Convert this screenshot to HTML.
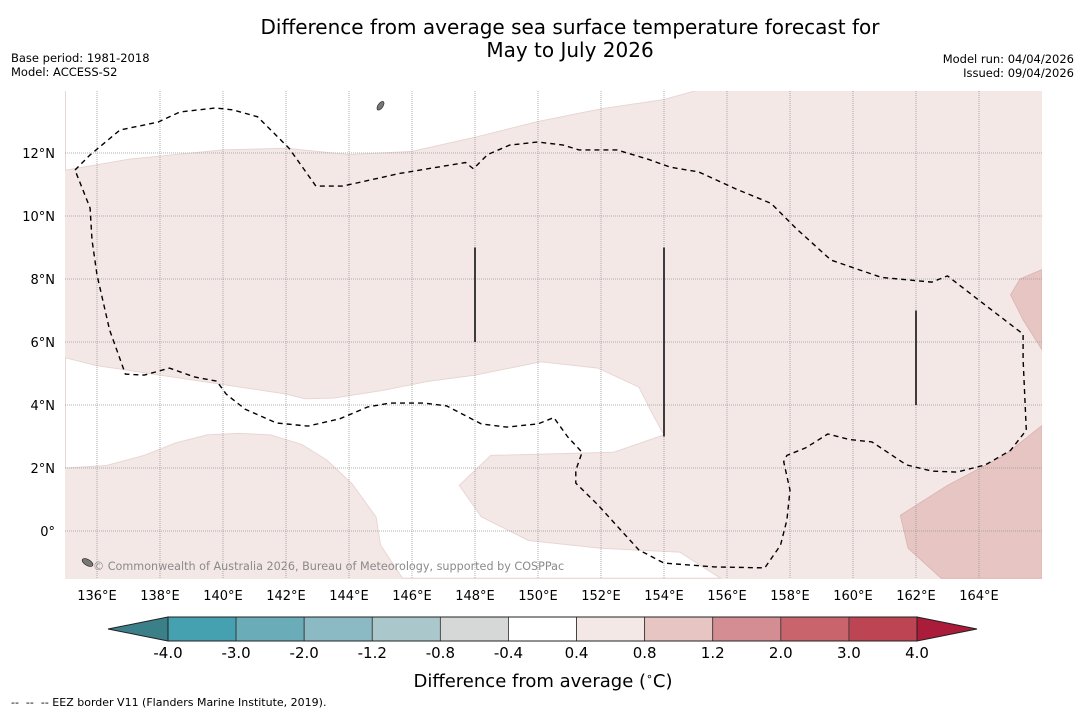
<!DOCTYPE html>
<html><head><meta charset="utf-8"><style>
html,body{margin:0;padding:0;background:#fff;}
body{width:1085px;height:713px;overflow:hidden;font-family:"Liberation Sans","DejaVu Sans",sans-serif;}
</style></head><body>
<svg id="chart" width="1085" height="713" viewBox="0 0 1085 713" xmlns="http://www.w3.org/2000/svg" font-family="DejaVu Sans, Liberation Sans, sans-serif">
<text x="570" y="34" text-anchor="middle" font-size="20">Difference from average sea surface temperature forecast for</text>
<text x="570" y="57" text-anchor="middle" font-size="20">May to July 2026</text>
<text x="11" y="62" font-size="11.5">Base period: 1981-2018</text>
<text x="11" y="76" font-size="11.5">Model: ACCESS-S2</text>
<text x="1074" y="63" text-anchor="end" font-size="11.5">Model run: 04/04/2026</text>
<text x="1074" y="77" text-anchor="end" font-size="11.5">Issued: 09/04/2026</text>
<defs><clipPath id="mapclip"><rect x="65" y="91" width="977" height="488"/></clipPath></defs>
<g id="map" clip-path="url(#mapclip)"></g>
<g id="axes"></g>
<g id="cbar"></g>
<text x="543" y="687" text-anchor="middle" font-size="18">Difference from average (<tspan font-size="11" dy="-7">∘</tspan><tspan dy="7">C)</tspan></text>
<text x="11" y="706" font-size="11" xml:space="preserve">--  --  -- EEZ border V11 (Flanders Marine Institute, 2019).</text>
</svg>
<script>
const lonTicks=[136,138,140,142,144,146,148,150,152,154,156,158,160,162,164];
const latTicks=[0,2,4,6,8,10,12];
const topWhite=[[135,14],[135,11.45],[137,11.8],[140,12.1],[142,12.15],[144,11.95],[146,12.05],[148,12.5],[150,13],[152,13.4],[154,13.7],[155.1,14]];
const midWhite=[[135,5.5],[136,5.25],[138,4.95],[140,4.65],[142,4.35],[142.6,4.2],[143.5,4.22],[145,4.45],[146.5,4.75],[148,4.95],[150.1,5.37],[151.9,5.17],[153.2,4.57],[153.7,3.6],[154,3.05],[152.4,2.5],[150.6,2.45],[148.5,2.4],[147.5,1.45],[148.2,0.45],[149.7,-0.3],[152,-0.55],[154.5,-0.67],[155.8,-1.5],[145.7,-1.5],[145,-0.45],[144.86,0.44],[144.1,1.5],[143.3,2.25],[142.5,2.75],[141.5,3.05],[140.5,3.1],[139.5,3.05],[138.5,2.8],[137.5,2.4],[136.3,2.08],[135,2.0]];
const darkTopRight=[[166,8.3],[165.3,8.0],[165,7.5],[165.4,6.7],[166,5.75]];
const darkBottomRight=[[161.5,0.5],[161.75,-0.55],[162.8,-1.5],[166,-1.5],[166,3.35],[164.8,2.4],[163,1.45]];
const eezMain=[[135.3,11.46],[135.78,11.94],[136.73,12.73],[137.94,12.98],[138.63,13.3],[139.75,13.43],[140.3,13.37],[141.1,13.15],[142.1,12.15],[142.95,10.95],[143.8,10.95],[145.6,11.35],[147.7,11.7],[147.95,11.5],[148.4,11.95],[149.1,12.25],[150,12.35],[150.8,12.25],[151.3,12.1],[151.7,12.1],[152.5,12.1],[153.5,11.8],[154.2,11.55],[155.1,11.4],[156.3,10.85],[157.4,10.4],[158.2,9.6],[159.3,8.6],[160.9,8.05],[162.5,7.9],[163,8.1],[163.9,7.4],[165.4,6.25],[165.4,5.45],[165.5,3.2],[165,2.56],[164.2,2.1],[163.3,1.87],[162.5,1.9],[161.7,2.1],[160.6,2.83],[159.9,2.9],[159.2,3.08],[158.5,2.64],[157.9,2.4],[157.8,2.2],[158,1.3],[157.9,0.35],[157.7,-0.45],[157.2,-1.17],[155.6,-1.14],[154,-1.02],[153.2,-0.6],[151.9,0.83],[151.2,1.52],[151.2,1.93],[151.4,2.5],[150.95,2.98],[150.5,3.6],[150,3.4],[149,3.3],[148.2,3.4],[147.6,3.71],[147.1,3.97],[146.4,4.06],[145.3,4.06],[144.6,3.94],[143.7,3.56],[142.7,3.33],[141.7,3.43],[140.7,3.87],[140.1,4.35],[139.8,4.76],[139.1,4.89],[138.3,5.17],[137.5,4.95],[136.9,4.98],[136.4,6.38],[136,8.13],[135.84,9.24],[135.78,10.25],[135.3,11.46]];
const eezSegments=[[[148,6],[148,9]],[[154,3],[154,9]],[[162,4],[162,7]]];
const cbBounds=[-4.0,-3.0,-2.0,-1.2,-0.8,-0.4,0.4,0.8,1.2,2.0,3.0,4.0];
const cbColors=["#45a0b0","#6aadb9","#8cbac4","#aac8cc","#d5d8d7","#ffffff","#f4e8e7","#e6c5c2","#d48e93","#c9636c","#bd4452"];
const cbLowColor="#3b7f88", cbHighColor="#ab1b3a";

const NS="http://www.w3.org/2000/svg";
const X=lon=>97+(lon-136)*31.5;
const Y=lat=>531-lat*31.5;
function mk(tag,attrs,parent){const e=document.createElementNS(NS,tag);for(const k in attrs)e.setAttribute(k,attrs[k]);parent.appendChild(e);return e;}
const pts=a=>a.map(p=>X(p[0]).toFixed(1)+","+Y(p[1]).toFixed(1)).join(" ");
const map=document.getElementById('map'), axes=document.getElementById('axes'), cbar=document.getElementById('cbar');

let e=mk('rect',{x:65,y:91,width:977,height:488,fill:'#f4e8e7'},map);


e=mk('polygon',{points:pts(topWhite),fill:'#ffffff',stroke:'#e8d6d4','stroke-width':1},map);


e=mk('polygon',{points:pts(midWhite),fill:'#ffffff',stroke:'#e8d6d4','stroke-width':1},map);


e=mk('polygon',{points:pts(darkTopRight),fill:'#e6c5c2',stroke:'#d9b3b0','stroke-width':0.8},map);


e=mk('polygon',{points:pts(darkBottomRight),fill:'#e6c5c2',stroke:'#d9b3b0','stroke-width':0.8},map);



lonTicks.forEach(l=>{
  const g=mk('line',{x1:X(l),x2:X(l),y1:91,y2:579,stroke:'#999','stroke-width':0.8,'stroke-dasharray':'1,1'},map);
  
  
  const t=mk('text',{x:X(l),y:600,'text-anchor':'middle','font-size':13},axes);
  t.textContent=l+'°E';
  
  
});
latTicks.forEach(l=>{
  const g=mk('line',{x1:65,x2:1042,y1:Y(l),y2:Y(l),stroke:'#999','stroke-width':0.8,'stroke-dasharray':'1,1'},map);
  
  
  const t=mk('text',{x:55,y:Y(l)+5,'text-anchor':'end','font-size':13},axes);
  t.textContent=l===0?'0°':l+'°N';
  
  
});

e=mk('polyline',{points:pts(eezMain),fill:'none',stroke:'#000','stroke-width':1.4,'stroke-dasharray':'5,4'},map);


eezSegments.forEach(s=>{
  const l=mk('polyline',{points:pts(s),fill:'none',stroke:'#111','stroke-width':1.6},map);
  
  
});
e=mk('text',{x:93,y:570,'font-size':11.2,fill:'#8a8a8a'},map);
e.textContent='© Commonwealth of Australia 2026, Bureau of Meteorology, supported by COSPPac';


e=mk('ellipse',{cx:X(145),cy:Y(13.5),rx:2.5,ry:5,fill:'#777',stroke:'#222','stroke-width':0.6,transform:'rotate(35 '+X(145)+' '+Y(13.5)+')'},map);


e=mk('ellipse',{cx:X(135.7),cy:Y(-1),rx:6,ry:3,fill:'#777',stroke:'#222','stroke-width':0.6,transform:'rotate(30 '+X(135.7)+' '+Y(-1)+')'},map);



const cbL=168,cbR=917,cbT=617,cbB=641;
const n=cbColors.length, w=(cbR-cbL)/n;
e=mk('polygon',{points:`108,629 ${cbL},${cbT} ${cbL},${cbB}`,fill:cbLowColor,stroke:'#222','stroke-width':1},cbar);


e=mk('polygon',{points:`977,629 ${cbR},${cbT} ${cbR},${cbB}`,fill:cbHighColor,stroke:'#222','stroke-width':1},cbar);


cbColors.forEach((c,i)=>{
  const r=mk('rect',{x:cbL+i*w,y:cbT,width:w,height:cbB-cbT,fill:c,stroke:'#333','stroke-width':0.8},cbar);
  
  
});
cbBounds.forEach((b,i)=>{
  const t=mk('text',{x:cbL+i*w,y:658,'text-anchor':'middle','font-size':15},cbar);
  t.textContent=b.toFixed(1);
  
  
});
e=mk('rect',{x:cbL,y:cbT,width:cbR-cbL,height:cbB-cbT,fill:'none',stroke:'#222','stroke-width':1},cbar);


</script>
</body></html>
